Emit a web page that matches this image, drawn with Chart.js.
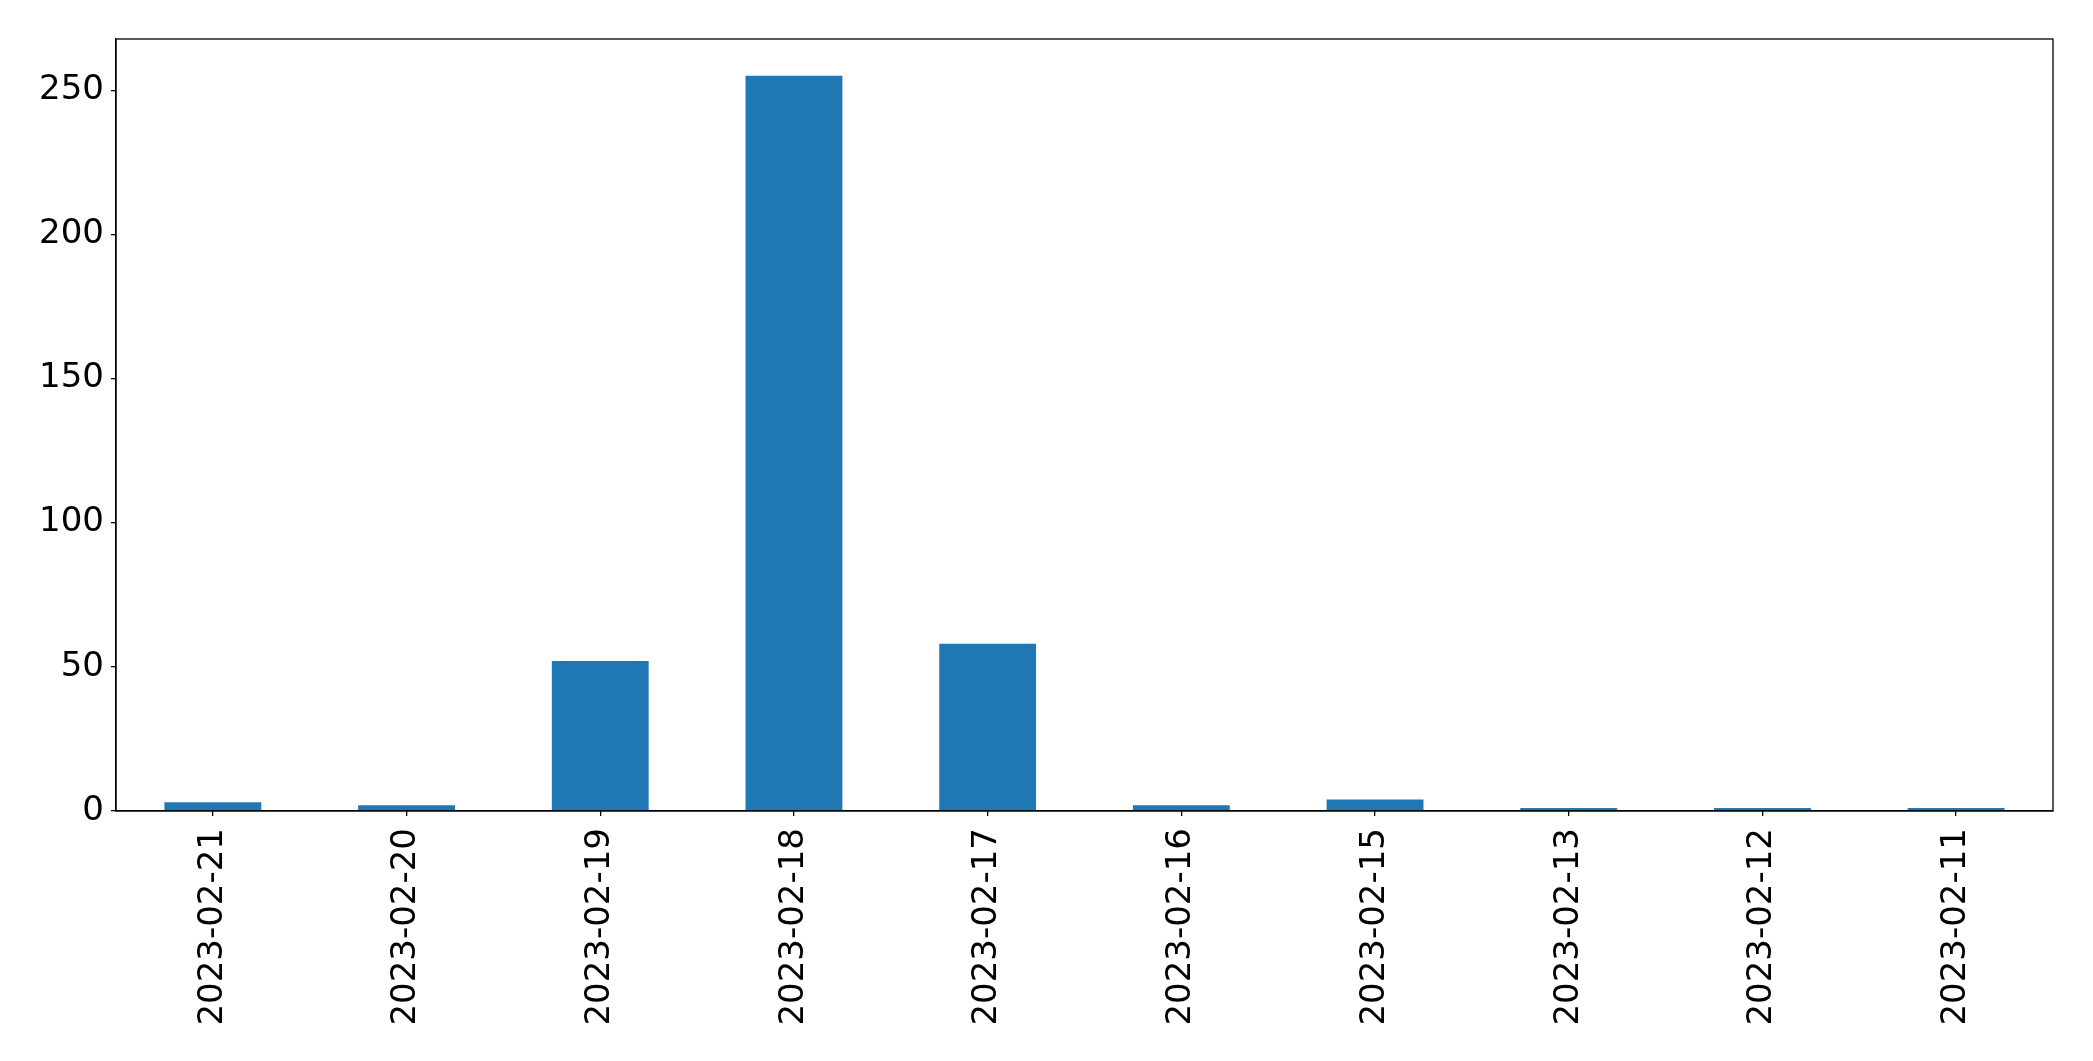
<!DOCTYPE html>
<html>
<head>
<meta charset="utf-8">
<script src="https://cdn.jsdelivr.net/npm/chart.js@4.4.0/dist/chart.umd.min.js"></script>
<style>
	body { margin: 0; background: #fff; }
	#wrap { width: 2093px; height: 1061px; }
</style>
</head>
<body>
<div id="wrap"><canvas id="mycanvas" width="2093" height="1061"></canvas></div>
<script>
var dates = ["2023-02-21", "2023-02-20", "2023-02-19", "2023-02-18", "2023-02-17",
	"2023-02-16", "2023-02-15", "2023-02-13", "2023-02-12", "2023-02-11"];
var counts = [3, 2, 52, 255, 58, 2, 4, 1, 1, 1];
var yTicks = [0, 50, 100, 150, 200, 250];

// draws the top and right spines so the plot is boxed in
var frame = {
	id: "frame",
	afterDraw: function(chart) {
		var a = chart.chartArea;
		var c = chart.ctx;
		c.save();
		c.strokeStyle = "#000";
		c.lineWidth = 1.3;
		c.strokeRect(a.left, a.top, a.right - a.left, a.bottom - a.top);
		c.restore();
	}
};

var font = { family: "DejaVu Sans", size: 34 };

var ctx = document.getElementById("mycanvas");
var barGraph = new Chart(ctx, {
	type: "bar",
	data: {
		labels: dates,
		datasets: [{
			data: counts,
			backgroundColor: "#1f77b4",
			barPercentage: 0.5,
			categoryPercentage: 1.0
		}]
	},
	options: {
		responsive: false,
		animation: false,
		layout: { padding: { top: 39, right: 40, left: 0, bottom: 0 } },
		plugins: { legend: { display: false }, tooltip: { enabled: false } },
		scales: {
			x: {
				offset: true,
				grid: { display: true, drawOnChartArea: false, drawTicks: true, tickLength: 5, offset: false, color: "#000", lineWidth: 1.3 },
				border: { display: true, color: "#000", width: 1.3 },
				ticks: { color: "#000", font: font, maxRotation: 90, minRotation: 90, autoSkip: false, padding: 12 },
				afterFit: function(scale) { scale.height = 250; }
			},
			y: {
				min: 0,
				max: 267.75,
				grid: { display: true, drawOnChartArea: false, drawTicks: true, tickLength: 5, color: "#000", lineWidth: 1.3 },
				border: { display: true, color: "#000", width: 1.3 },
				ticks: { color: "#000", font: font, padding: 7 },
				afterBuildTicks: function(scale) {
					scale.ticks = yTicks.map(function(v) { return { value: v }; });
				},
				afterFit: function(scale) { scale.width = 116; }
			}
		}
	},
	plugins: [frame]
});
</script>
</body>
</html>
